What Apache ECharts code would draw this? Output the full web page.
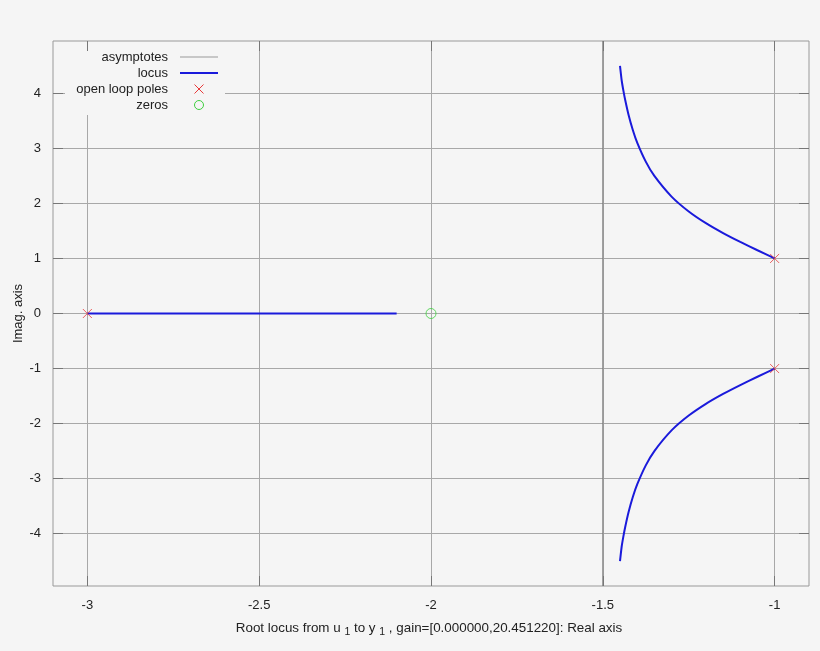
<!DOCTYPE html>
<html>
<head>
<meta charset="utf-8">
<script src="https://cdn.jsdelivr.net/npm/echarts@6/dist/echarts.min.js"></script>
<style>
  html, body { margin: 0; padding: 0; background: #f5f5f5; }
  #chart { width: 820px; height: 651px; }
</style>
</head>
<body>
<div id="chart"></div>
<script>
// ---- data ----
const xTicks = [-3, -2.5, -2, -1.5, -1];
const yTicks = [-4, -3, -2, -1, 0, 1, 2, 3, 4];

const asymRe = [-1.5, -1.5];
const asymIm = [-4.95, 4.95];

const locusRealRe = [-3.0, -2.1];
const locusRealIm = [0, 0];

const locusUpperRe = [-1.00, -1.05, -1.10, -1.15, -1.20, -1.25, -1.30, -1.35, -1.375, -1.40, -1.4125, -1.425, -1.435, -1.44, -1.445, -1.45];
const locusUpperIm = [1.000, 1.149, 1.300, 1.461, 1.641, 1.854, 2.124, 2.499, 2.759, 3.105, 3.329, 3.606, 3.882, 4.044, 4.228, 4.498];

const locusLowerRe = [-1.00, -1.05, -1.10, -1.15, -1.20, -1.25, -1.30, -1.35, -1.375, -1.40, -1.4125, -1.425, -1.435, -1.44, -1.445, -1.45];
const locusLowerIm = [-1.000, -1.149, -1.300, -1.461, -1.641, -1.854, -2.124, -2.499, -2.759, -3.105, -3.329, -3.606, -3.882, -4.044, -4.228, -4.498];

const polesRe = [-3, -1, -1];
const polesIm = [0, 1, -1];

const zerosRe = [-2];
const zerosIm = [0];

const legendNames = ['asymptotes', 'locus', 'open loop poles', 'zeros'];

// ---- helpers ----
const pairs = (xs, ys) => xs.map((x, i) => [x, ys[i]]);
const FONT = '"Liberation Sans", Arial, sans-serif';
const TEXT = '#222';
const BLUE = '#1a1adb';
const RED = '#e83a3a';
const GREEN = '#3ecf3e';
const ASYM = '#7a7a7a';
const GRIDC = '#a8a8a8';

const chart = echarts.init(document.getElementById('chart'), null, { renderer: 'canvas' });

const axisCommon = {
  type: 'value',
  axisLine: { show: false, onZero: false },
};

const option = {
  animation: false,
  backgroundColor: '#f5f5f5',
  textStyle: { fontFamily: FONT },
  grid: {
    left: 53, right: 11, top: 41, bottom: 65,
    outerBoundsMode: 'none', containLabel: false,
    show: true, borderColor: '#999', borderWidth: 1, backgroundColor: 'transparent'
  },
  xAxis: [
    Object.assign({}, axisCommon, {
      min: -3.1, max: -0.9, position: 'bottom',
      axisTick: { show: true, inside: true, length: 10, customValues: xTicks, lineStyle: { color: '#777' } },
      axisLabel: { customValues: xTicks, margin: 13, color: TEXT, fontSize: 13, fontFamily: FONT, formatter: v => String(v) },
      splitLine: { show: true, lineStyle: { color: GRIDC, width: 1 } },
      name: 'Root locus from u {sub|1} to y {sub|1} , gain=[0.000000,20.451220]: Real axis',
      nameLocation: 'middle', nameGap: 33, nameMoveOverlap: false,
      nameTextStyle: {
        color: TEXT, fontSize: 13.4, fontFamily: FONT, padding: [0, 4, 0, 0],
        rich: { sub: { fontSize: 10.5, fontFamily: FONT, color: TEXT, padding: [8, 0, 0, 0] } }
      }
    }),
    Object.assign({}, axisCommon, {
      min: -3.1, max: -0.9, position: 'top',
      axisTick: { show: true, inside: true, length: 10, customValues: xTicks, lineStyle: { color: '#777' } },
      axisLabel: { show: false },
      splitLine: { show: false }
    })
  ],
  yAxis: [
    Object.assign({}, axisCommon, {
      min: -4.95, max: 4.95, position: 'left',
      axisTick: { show: true, inside: true, length: 10, customValues: yTicks, lineStyle: { color: '#777' } },
      axisLabel: { customValues: yTicks, margin: 12, color: TEXT, fontSize: 13, fontFamily: FONT, formatter: v => String(v) },
      splitLine: { show: true, lineStyle: { color: GRIDC, width: 1 } },
      name: 'Imag. axis', nameLocation: 'middle', nameGap: 28, nameMoveOverlap: false,
      nameTextStyle: { color: TEXT, fontSize: 13, fontFamily: FONT }
    }),
    Object.assign({}, axisCommon, {
      min: -4.95, max: 4.95, position: 'right',
      axisTick: { show: true, inside: true, length: 10, customValues: yTicks, lineStyle: { color: '#777' } },
      axisLabel: { show: false },
      splitLine: { show: false }
    })
  ],
  series: [
    {
      name: legendNames[0], type: 'line', data: pairs(asymRe, asymIm),
      symbol: 'none', lineStyle: { color: ASYM, width: 1 }, z: 2
    },
    {
      name: legendNames[1], type: 'line', data: pairs(locusRealRe, locusRealIm),
      symbol: 'none', lineStyle: { color: BLUE, width: 2 }, z: 3
    },
    {
      name: legendNames[1], type: 'line', data: pairs(locusUpperRe, locusUpperIm),
      symbol: 'none', smooth: 0.2, lineStyle: { color: BLUE, width: 2 }, z: 3
    },
    {
      name: legendNames[1], type: 'line', data: pairs(locusLowerRe, locusLowerIm),
      symbol: 'none', smooth: 0.2, lineStyle: { color: BLUE, width: 2 }, z: 3
    },
    {
      name: legendNames[2], type: 'scatter', data: pairs(polesRe, polesIm),
      symbol: 'path://M0,0L10,10M10,0L0,10', symbolSize: 9,
      itemStyle: { color: 'rgba(0,0,0,0)', borderColor: RED, borderWidth: 1 }, z: 5
    },
    {
      name: legendNames[3], type: 'scatter', data: pairs(zerosRe, zerosIm),
      symbol: 'circle', symbolSize: 10,
      itemStyle: { color: 'rgba(0,0,0,0)', borderColor: GREEN, borderWidth: 1 }, z: 5
    }
  ],
  graphic: [
    { type: 'rect', z: 100, shape: { x: 65, y: 51, width: 160, height: 64 }, style: { fill: '#f5f5f5' } },
    { type: 'text', z: 101, style: { text: legendNames[0], x: 168, y: 57, align: 'right', verticalAlign: 'middle', font: '13px ' + FONT, fill: TEXT } },
    { type: 'text', z: 101, style: { text: legendNames[1], x: 168, y: 73, align: 'right', verticalAlign: 'middle', font: '13px ' + FONT, fill: TEXT } },
    { type: 'text', z: 101, style: { text: legendNames[2], x: 168, y: 89, align: 'right', verticalAlign: 'middle', font: '13px ' + FONT, fill: TEXT } },
    { type: 'text', z: 101, style: { text: legendNames[3], x: 168, y: 105, align: 'right', verticalAlign: 'middle', font: '13px ' + FONT, fill: TEXT } },
    { type: 'line', z: 101, shape: { x1: 180, y1: 57, x2: 218, y2: 57 }, style: { stroke: '#999', lineWidth: 1 } },
    { type: 'line', z: 101, shape: { x1: 180, y1: 73, x2: 218, y2: 73 }, style: { stroke: BLUE, lineWidth: 2 } },
    { type: 'line', z: 101, shape: { x1: 194.5, y1: 84.5, x2: 203.5, y2: 93.5 }, style: { stroke: RED, lineWidth: 1 } },
    { type: 'line', z: 101, shape: { x1: 203.5, y1: 84.5, x2: 194.5, y2: 93.5 }, style: { stroke: RED, lineWidth: 1 } },
    { type: 'circle', z: 101, shape: { cx: 199, cy: 105, r: 4.5 }, style: { fill: 'none', stroke: GREEN, lineWidth: 1 } }
  ]
};

chart.setOption(option);
</script>
</body>
</html>
